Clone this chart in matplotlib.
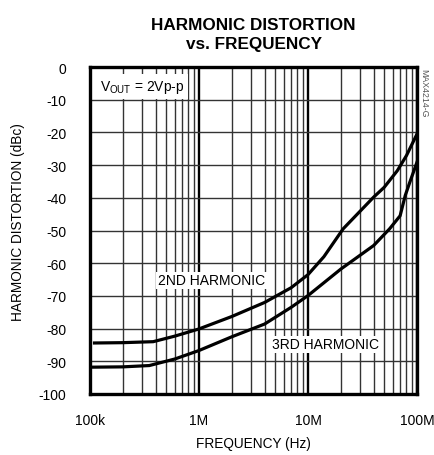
import numpy as np
import matplotlib.pyplot as plt
from matplotlib.ticker import FixedLocator, NullFormatter

plt.rcParams['font.family'] = ['Liberation Sans', 'DejaVu Sans']
plt.rcParams['mathtext.fontset'] = 'custom'
plt.rcParams['mathtext.rm'] = 'Liberation Sans'

# 2nd harmonic (Hz, dBc)
freq_2nd = [1.1e5, 2e5, 3.8e5, 6e5, 1e6, 2e6, 4e6, 7e6, 1e7, 1.4e7,
            2.1e7, 4e7, 5e7, 6.6e7, 8e7, 1e8]
hd_2nd = [-84.4, -84.3, -84.0, -82.3, -80.1, -76.3, -72.0, -67.5, -63.5, -58.0,
          -49.5, -39.8, -36.8, -31.7, -27.1, -20.5]

# 3rd harmonic (Hz, dBc)
freq_3rd = [1e5, 2e5, 3.5e5, 6e5, 1e6, 2e6, 4e6, 7e6, 1e7, 2e7,
            4e7, 5.6e7, 7e7, 7.8e7, 8.6e7, 1e8]
hd_3rd = [-91.8, -91.7, -91.3, -89.3, -86.7, -82.5, -78.6, -73.5, -69.9, -61.8,
          -54.6, -49.5, -45.5, -39.3, -35.2, -29.1]

x_ticks = [1e5, 1e6, 1e7, 1e8]
x_ticklabels = ['100k', '1M', '10M', '100M']
y_ticks = [0, -10, -20, -30, -40, -50, -60, -70, -80, -90, -100]

fig = plt.figure(figsize=(4.34, 4.56), dpi=100)
ax = fig.add_axes([90 / 434, 1 - 395 / 456, 327 / 434, 327 / 456])

ax.set_xscale('log')
ax.set_xlim(1e5, 1e8)
ax.set_ylim(-100, 0)

# grid
minor = [m * d for d in (1e5, 1e6, 1e7) for m in range(2, 10)]
ax.xaxis.set_minor_locator(FixedLocator(minor))
ax.xaxis.set_minor_formatter(NullFormatter())
ax.set_xticks(x_ticks)
ax.set_xticklabels(x_ticklabels)
ax.set_yticks(y_ticks)
ax.set_yticklabels([str(v) for v in y_ticks])
ax.grid(True, which='minor', axis='x', color='#333333', lw=1.0, zorder=1)
ax.grid(True, which='major', axis='x', color='black', lw=1.7, zorder=1)
ax.grid(True, which='major', axis='y', color='#333333', lw=1.0, zorder=1)
ax.set_axisbelow(True)
ax.tick_params(which='both', length=0, labelsize=10)
ax.tick_params(axis='x', pad=14)
ax.tick_params(axis='y', pad=17)

for s in ax.spines.values():
    s.set_linewidth(2.4)

ax.plot(freq_2nd, hd_2nd, color='black', lw=2.3, zorder=3)
ax.plot(freq_3rd, hd_3rd, color='black', lw=2.3, zorder=3)

ax.text(0.03, -6.0, r'V$_{\mathrm{OUT}}$ = 2Vp-p', fontsize=10, va='center', ha='left',
        transform=ax.get_yaxis_transform(),
        bbox=dict(boxstyle='square,pad=0.3', fc='white', ec='none'), zorder=4)
ax.text(1.3e6, -65.2, '2ND HARMONIC', fontsize=10, va='center', ha='center',
        bbox=dict(boxstyle='square,pad=0.12', fc='white', ec='none'), zorder=4)
ax.text(1.45e7, -84.8, '3RD HARMONIC', fontsize=10, va='center', ha='center',
        bbox=dict(boxstyle='square,pad=0.12', fc='white', ec='none'), zorder=4)

fig.text(424 / 434, 1 - 93 / 456, 'MAX4214-G', rotation=-90, fontsize=6.3,
         color='#555555', ha='center', va='center')

ax.set_title('HARMONIC DISTORTION\nvs. FREQUENCY', fontsize=12.3, fontweight='bold',
             linespacing=1.3, pad=14)
ax.set_xlabel('FREQUENCY (Hz)', fontsize=9.8, labelpad=6)
ax.set_ylabel('HARMONIC DISTORTION (dBc)', fontsize=9.8)
ax.yaxis.set_label_coords(-0.199, 0.529)

fig.savefig('out.png', dpi=100)
